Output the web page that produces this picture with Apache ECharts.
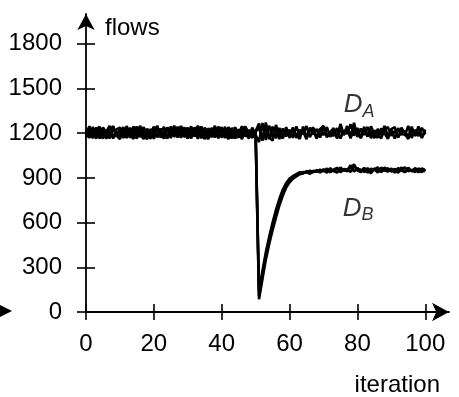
<!DOCTYPE html>
<html><head><meta charset="utf-8">
<script src="https://cdn.jsdelivr.net/npm/echarts@6/dist/echarts.min.js"></script>
<style>html,body{margin:0;padding:0;background:#fff}#c{width:459px;height:397px}</style>
</head><body><div id="c"></div>
<script>
const xTicks=[0,20,40,60,80,100];
const yTicks=[0,300,600,900,1200,1500,1800];
const xName='iteration';
const yName='flows';
// D_A runs (iterations 0..100)
const runA1=[1170,1225,1182,1238,1195,1164,1221,1187,1240,1176,
1214,1168,1230,1191,1245,1172,1209,1235,1180,1219,
1162,1228,1197,1242,1175,1216,1185,1233,1169,1224,
1190,1246,1178,1211,1166,1237,1199,1226,1173,1212,
1240,1183,1218,1165,1231,1192,1247,1177,1222,1188,
1215,1265,1150,1250,1160,1245,1165,1235,1170,1228,
1181,1239,1168,1223,1194,1248,1174,1217,1163,1232,
1186,1241,1176,1219,1171,1262,1188,1227,1166,1236,
1195,1172,1243,1184,1213,1167,1229,1191,1249,1178,
1221,1164,1234,1189,1216,1173,1244,1182,1209,1168,
1225];
const runA2=[1228,1174,1216,1163,1239,1186,1212,1248,1171,1207,
1183,1236,1167,1225,1179,1243,1194,1161,1230,1187,
1244,1176,1210,1168,1233,1190,1251,1173,1206,1239,
1165,1221,1184,1247,1177,1204,1162,1229,1195,1241,
1170,1218,1189,1235,1166,1226,1181,1210,1164,1238,
1190,1140,1268,1155,1250,1175,1240,1160,1232,1178,
1224,1169,1246,1185,1213,1160,1237,1192,1228,1171,
1245,1183,1208,1234,1165,1222,1191,1248,1178,1270,
1174,1231,1188,1242,1167,1219,1196,1165,1227,1240,
1182,1215,1170,1237,1193,1162,1224,1185,1245,1176,
1210];
const runA3=[1186,1242,1169,1213,1231,1176,1198,1247,1164,1225,
1238,1181,1222,1170,1208,1244,1173,1227,1190,1163,
1219,1247,1171,1203,1236,1168,1230,1184,1249,1174,
1210,1165,1239,1187,1221,1160,1233,1195,1175,1243,
1205,1169,1241,1182,1166,1224,1192,1237,1171,1216,
1210,1235,1160,1272,1175,1150,1255,1190,1165,1240,
1168,1230,1189,1162,1244,1177,1215,1238,1169,1226,
1250,1172,1206,1181,1234,1164,1218,1195,1260,1183,
1235,1166,1220,1177,1246,1188,1170,1232,1200,1163,
1228,1241,1174,1210,1186,1249,1168,1223,1181,1236,
1192];
// D_B runs (iterations 0..100)
const runB1=[1176,1233,1168,1219,1244,1181,1210,1165,1237,1190,
1224,1172,1248,1185,1163,1228,1199,1241,1170,1215,
1234,1178,1206,1164,1239,1187,1226,1171,1245,1195,
1167,1220,1183,1250,1174,1212,1161,1236,1192,1229,
1180,1243,1169,1216,1238,1175,1207,1246,1186,1222,
1195,105,250,380,485,580,665,740,805,855,
888,908,922,930,940,935,948,938,952,936,
958,941,965,947,935,970,949,958,940,981,
952,938,967,948,932,963,955,941,970,946,
961,935,966,950,940,968,944,959,937,964,
950];
const runB2=[1215,1168,1242,1189,1174,1231,1163,1222,1247,1180,
1205,1240,1171,1219,1186,1166,1235,1194,1160,1228,
1183,1249,1175,1211,1167,1232,1192,1243,1178,1203,
1238,1170,1225,1162,1246,1184,1214,1173,1240,1165,
1227,1188,1161,1233,1196,1170,1245,1179,1212,1168,
1210,140,275,400,505,600,685,760,820,865,
895,912,925,938,932,945,930,948,942,955,
945,962,938,955,968,944,960,951,985,942,
966,947,958,936,962,953,971,940,957,964,
942,960,949,970,938,957,946,965,951,939,
958];
const runB3=[1192,1247,1173,1228,1164,1239,1201,1170,1244,1185,
1161,1226,1197,1236,1178,1212,1249,1167,1221,1183,
1240,1172,1231,1190,1165,1246,1176,1218,1195,1235,
1169,1229,1184,1242,1208,1163,1225,1188,1250,1171,
1214,1187,1237,1166,1224,1199,1160,1241,1177,1230,
1185,85,220,350,455,550,635,715,780,835,
870,895,910,925,930,940,928,942,947,941,
950,936,957,944,962,939,955,945,972,990,
948,957,939,966,944,958,936,969,950,943,
962,948,936,958,970,945,954,938,963,951,
944];
const seriesLabels=[['A',80.5,1390],['B',80.2,695]];

const FONT='Liberation Sans';
const chart=echarts.init(document.getElementById('c'),null,{renderer:'canvas'});
const lineStyleAxis={color:'#000',width:1.8};
const tickStyle={color:'#000',width:1.6};
const plain=v=>String(v);
const series=[runA1,runA2,runA3,runB1,runB2,runB3].map(run=>({
  type:'line', data:run.map((v,i)=>[i,v]), symbol:'none', silent:true,
  lineStyle:{color:'#000',width:2.6}, animation:false, z:2
}));
series.push({
  type:'scatter', symbolSize:1, itemStyle:{color:'rgba(0,0,0,0)'}, silent:true, animation:false,
  data:seriesLabels.map(l=>[l[1],l[2],l[0]]),
  label:{show:true, position:'inside', formatter:p=>'{d|D}{s|'+p.data[2]+'}',
    rich:{
      d:{fontSize:26,fontStyle:'italic',fontFamily:FONT,color:'#000'},
      s:{fontSize:18,fontStyle:'italic',fontFamily:FONT,color:'#000',padding:[14,0,0,0]}
    }}
});
chart.setOption({
  animation:false,
  grid:{left:86,top:14,width:363,height:298,containLabel:false,outerBoundsMode:'none'},
  xAxis:[{
    type:'value',min:0,max:107,position:'bottom',
    axisLine:{show:true,onZero:false,lineStyle:lineStyleAxis,symbol:['none','arrow'],symbolSize:[14,17]},
    axisTick:{show:true,customValues:xTicks,length:8,lineStyle:tickStyle},
    axisLabel:{customValues:xTicks,formatter:plain,margin:20,fontSize:24,fontFamily:FONT,color:'#000'},
    splitLine:{show:false},
    name:xName,nameLocation:'end',nameGap:-9,
    nameTextStyle:{fontSize:24,fontFamily:FONT,color:'#000',align:'right',verticalAlign:'top',padding:[61,0,0,0]}
  },{
    type:'value',min:0,max:107,position:'bottom',
    axisLine:{show:false,onZero:false},
    axisTick:{show:true,inside:true,customValues:xTicks,length:8,lineStyle:tickStyle},
    axisLabel:{show:false},splitLine:{show:false}
  }],
  yAxis:[{
    type:'value',min:0,max:2000,position:'left',
    axisLine:{show:true,onZero:false,lineStyle:lineStyleAxis,symbol:['none','arrow'],symbolSize:[13,16]},
    axisTick:{show:true,customValues:yTicks,length:9,lineStyle:tickStyle},
    axisLabel:{customValues:yTicks,formatter:plain,margin:24,fontSize:24,fontFamily:FONT,color:'#000'},
    splitLine:{show:false},
    name:yName,nameLocation:'end',nameGap:-14,
    nameTextStyle:{fontSize:24,fontFamily:FONT,color:'#000',align:'left',verticalAlign:'middle',padding:[0,0,0,19]}
  },{
    type:'value',min:0,max:2000,position:'left',
    axisLine:{show:false,onZero:false},
    axisTick:{show:true,inside:true,customValues:yTicks,length:9,lineStyle:tickStyle},
    axisLabel:{show:false},splitLine:{show:false}
  }],
  graphic:[{type:'polygon',shape:{points:[[0,305],[12,311],[0,317]]},style:{fill:'#000'}}],
  series:series
});
</script></body></html>
